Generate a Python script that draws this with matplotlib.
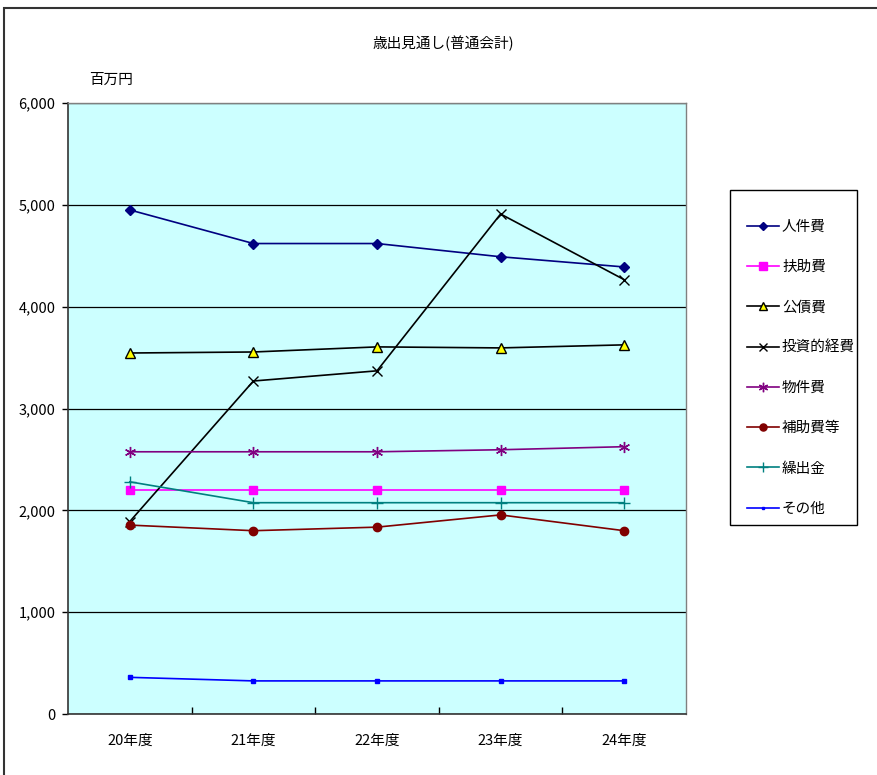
import matplotlib
matplotlib.use("Agg")
import matplotlib.pyplot as plt
from matplotlib.patches import Rectangle
from matplotlib.ticker import FuncFormatter, MultipleLocator

plt.rcParams['font.family'] = ['Noto Sans CJK JP', 'DejaVu Sans']

years = ['20年度', '21年度', '22年度', '23年度', '24年度']

# 歳出見通し（百万円）
jinkenhi = [4950, 4620, 4620, 4490, 4390]
fujohi = [2200, 2200, 2200, 2200, 2200]
kosaihi = [3545, 3555, 3605, 3595, 3625]
toushi = [1890, 3270, 3370, 4910, 4265]
bukkenhi = [2575, 2575, 2575, 2595, 2625]
hojohi = [1855, 1800, 1835, 1955, 1800]
kuridashi = [2280, 2075, 2075, 2075, 2075]
sonota = [360, 325, 325, 325, 325]

series = [
    ('人件費', jinkenhi, dict(color='#000080', marker='D', ms=5, mfc='#000080', mec='#000080')),
    ('扶助費', fujohi, dict(color='#FF00FF', marker='s', ms=6, mfc='#FF00FF', mec='#FF00FF')),
    ('公債費', kosaihi, dict(color='#000000', marker='^', ms=7, mfc='#FFFF00', mec='#000000', mew=1.0)),
    ('投資的経費', toushi, dict(color='#000000', marker='x', ms=7, mew=1.0)),
    ('物件費', bukkenhi, dict(color='#800080', marker=(6, 2, 0), ms=8, mew=1.0)),
    ('補助費等', hojohi, dict(color='#800000', marker='o', ms=6, mfc='#800000', mec='#800000')),
    ('繰出金', kuridashi, dict(color='#008080', marker='+', ms=8, mew=1.0)),
    ('その他', sonota, dict(color='#0000FF', marker='s', ms=2.5, mfc='#0000FF', mec='#0000FF')),
]

W, H = 877, 775
FS = 10.5
fig = plt.figure(figsize=(W / 100, H / 100), dpi=100)
ax = fig.add_axes([68 / W, 1 - 714 / H, (686 - 68) / W, (714 - 103) / H])
ax.set_facecolor('#CCFFFF')

x = list(range(len(years)))
for name, vals, style in series:
    ax.plot(x, vals, lw=1.2, label=name, **style)

ax.set_xlim(-0.5, len(years) - 0.5)
ax.set_ylim(0, 6000)
ax.yaxis.set_major_locator(MultipleLocator(1000))
ax.yaxis.set_major_formatter(FuncFormatter(lambda v, p: f'{int(v):,}'))
ax.yaxis.grid(True, color='black', lw=0.9)
ax.set_axisbelow(True)

ax.set_xticks(x)
ax.set_xticklabels(years)
ax.set_xticks([i + 0.5 for i in range(len(years) - 1)], minor=True)
ax.tick_params(axis='x', which='major', length=0, pad=14, labelsize=FS)
ax.tick_params(axis='x', which='minor', direction='in', length=5, width=1)
ax.tick_params(axis='y', direction='out', length=4, width=1, pad=5, labelsize=FS)

for side in ['top', 'right']:
    ax.spines[side].set_color('#808080')
    ax.spines[side].set_linewidth(1.0)
for side in ['left', 'bottom']:
    ax.spines[side].set_color('#333333')
    ax.spines[side].set_linewidth(1.2)

fig.text(443 / W, 1 - 43 / H, '歳出見通し(普通会計)', ha='center', va='center', fontsize=FS)
fig.text(89 / W, 1 - 80 / H, '百万円', ha='left', va='center', fontsize=FS)

# legend entries without frame; box drawn separately
leg = fig.legend(loc='upper left', bbox_to_anchor=(747 / W, 1 - 220 / H),
                 borderaxespad=0, borderpad=0, frameon=False, markerscale=0.85,
                 fontsize=FS, labelspacing=1.8, handlelength=2.2, handletextpad=0.2)
fig.patches.append(Rectangle((730 / W, 1 - 525 / H), (857 - 730) / W, (525 - 190) / H,
                             transform=fig.transFigure, fill=False, edgecolor='black', lw=1.0))

# outer chart border
fig.patches.append(Rectangle((4 / W, -0.1), 1.2, 1 - 8 / H + 0.1, transform=fig.transFigure,
                             fill=False, edgecolor='#333333', lw=1.5))

fig.savefig('out.png', dpi=100)
